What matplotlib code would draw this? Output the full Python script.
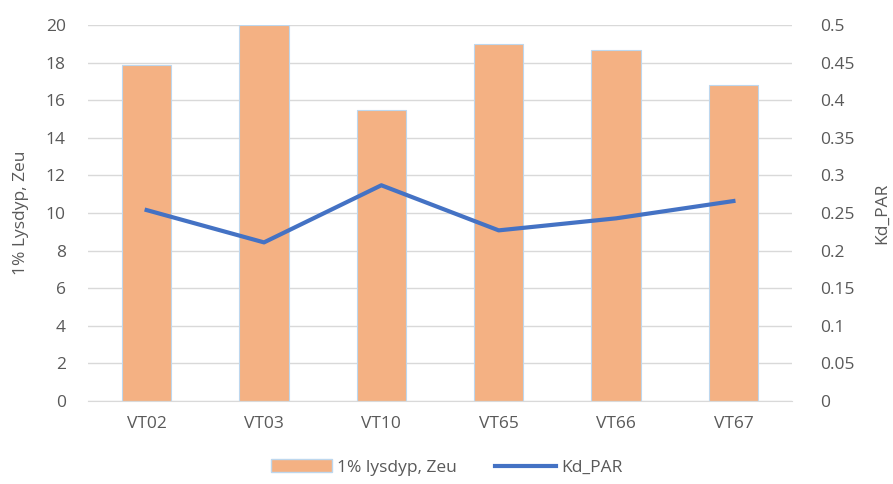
import matplotlib
matplotlib.use("Agg")
import matplotlib.pyplot as plt
from matplotlib.lines import Line2D
from matplotlib.patches import Patch

categories = ["VT02", "VT03", "VT10", "VT65", "VT66", "VT67"]
zeu = [17.9, 20.0, 15.5, 19.0, 18.7, 16.8]
kd_par = [0.254, 0.211, 0.287, 0.227, 0.243, 0.266]
left_ticks = [0, 2, 4, 6, 8, 10, 12, 14, 16, 18, 20]
right_ticks = [0, 0.05, 0.1, 0.15, 0.2, 0.25, 0.3, 0.35, 0.4, 0.45, 0.5]

plt.rcParams['font.family'] = ['Open Sans', 'DejaVu Sans']
txt = '#595959'
fs = 12.5

fig = plt.figure(figsize=(8.93, 4.84), dpi=100)
ax = fig.add_axes([0.0985, 0.1715, 0.7885, 0.7765])
x = list(range(len(categories)))
ax.bar(x, zeu, width=0.42, color='#F4B183', edgecolor='#BDD7EE', linewidth=0.8, zorder=2)
ax.set_xlim(-0.5, len(categories) - 0.5)
ax.set_ylim(0, 20)
ax.set_yticks(left_ticks)
ax.set_yticklabels([str(t) for t in left_ticks])
ax.set_xticks(x)
ax.set_xticklabels(categories)
ax.grid(axis='y', color='#D9D9D9', linewidth=1, zorder=0)
for s in ['top', 'right', 'left']:
    ax.spines[s].set_visible(False)
ax.spines['bottom'].set_color('#D9D9D9')
ax.tick_params(axis='both', length=0, colors=txt, labelsize=fs)
ax.tick_params(axis='x', pad=11)
ax.tick_params(axis='y', pad=16)
ax.set_ylabel('1% Lysdyp, Zeu', color=txt, fontsize=fs, labelpad=12)

ax2 = ax.twinx()
ax2.plot(x, kd_par, color='#4472C4', linewidth=3, zorder=3)
ax2.set_ylim(0, 0.5)
ax2.set_yticks(right_ticks)
ax2.set_yticklabels(['0', '0.05', '0.1', '0.15', '0.2', '0.25', '0.3', '0.35', '0.4', '0.45', '0.5'])
for s in ax2.spines.values():
    s.set_visible(False)
ax2.tick_params(axis='y', length=0, colors=txt, labelsize=fs, pad=20)
ax2.set_ylabel('Kd_PAR', color=txt, fontsize=fs, rotation=90, labelpad=14)

handles = [Patch(facecolor='#F4B183', edgecolor='#BDD7EE', label='1% lysdyp, Zeu'),
           Line2D([0], [0], color='#4472C4', linewidth=3, label='Kd_PAR')]
fig.legend(handles=handles, loc='lower center', bbox_to_anchor=(0.5, -0.015), ncol=2,
           frameon=False, fontsize=fs, labelcolor=txt, handlelength=3.5, columnspacing=2.2,
           handletextpad=0.3)

fig.savefig('out.png', dpi=100)
